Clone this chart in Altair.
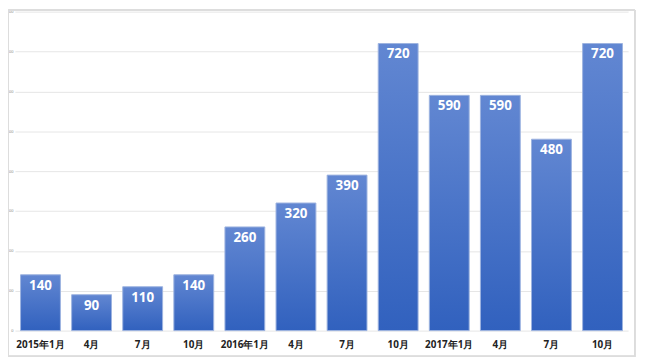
import altair as alt
import pandas as pd

periods = ["2015年1月", "4月", "7月", "10月", "2016年1月", "4月 ", "7月 ", "10月 ",
           "2017年1月", "4月  ", "7月  ", "10月  "]
values = [140, 90, 110, 140, 260, 320, 390, 720, 590, 590, 480, 720]

df = pd.DataFrame({"period": periods, "value": values})

x_enc = alt.X("period:N", sort=periods, title=None,
              scale=alt.Scale(paddingInner=0.22, paddingOuter=0.11),
              axis=alt.Axis(labelAngle=0, labelFontSize=10, labelFontWeight="bold",
                            labelColor="#222222", labelFont="Open Sans", ticks=False,
                            domain=False, labelPadding=9))
y_enc = alt.Y("value:Q", title=None,
              scale=alt.Scale(domain=[0, 800], nice=False),
              axis=alt.Axis(values=list(range(0, 801, 100)), labelFontSize=4,
                            labelColor="#888888", ticks=False, domain=False,
                            labelPadding=2, gridColor="#e6e6e6", gridWidth=1))

bars = alt.Chart(df).mark_bar(
    color=alt.Gradient(
        gradient="linear",
        stops=[alt.GradientStop(color="#6287d2", offset=0),
               alt.GradientStop(color="#3161be", offset=1)],
        x1=0, x2=0, y1=0, y2=1),
    stroke="#9db3e0", strokeWidth=1,
).encode(x=x_enc, y=y_enc)

labels = alt.Chart(df).mark_text(
    color="white", fontSize=13.5, fontWeight="bold", font="Open Sans",
    baseline="middle", dy=11,
).encode(x=alt.X("period:N", sort=periods), y="value:Q", text="value:Q")

frame = alt.Chart(df).mark_rect(
    fill=None, stroke="#dddddd", strokeWidth=1, clip=False
).encode(x=alt.value(-6.5), x2=alt.value(626), y=alt.value(-1.5), y2=alt.value(348))

chart = alt.layer(bars, labels, frame).properties(
    width=619, height=322,
    autosize=alt.AutoSizeParams(type="none"),
    padding={"left": 7, "top": 2, "right": 10, "bottom": 28}
).configure_view(stroke=None)

chart.save("out.html", embed_options={"renderer": "svg", "actions": False})
